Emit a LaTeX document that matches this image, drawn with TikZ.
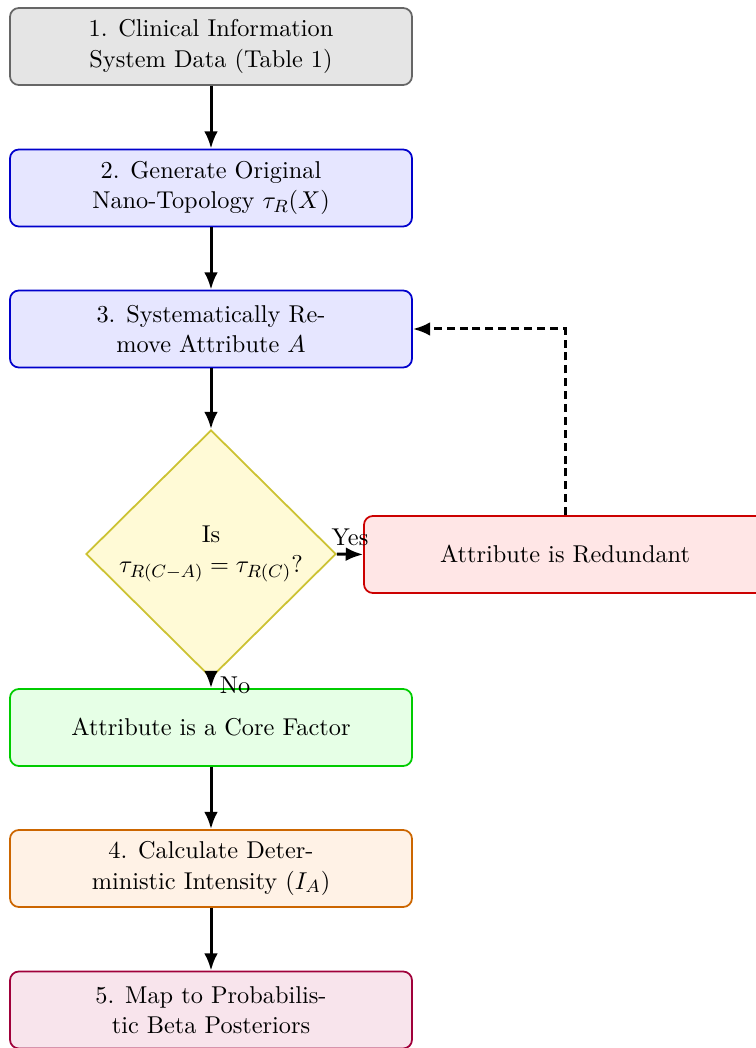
\documentclass[tikz,border=0pt]{standalone}
\usetikzlibrary{shapes.geometric,arrows.meta}
\definecolor{grayfill}{RGB}{229,229,229}
\definecolor{graydraw}{RGB}{102,102,102}
\definecolor{bluefill}{RGB}{230,230,255}
\definecolor{bluedraw}{RGB}{0,0,204}
\definecolor{yelfill}{RGB}{255,250,214}
\definecolor{yeldraw}{RGB}{204,194,51}
\definecolor{redfill}{RGB}{255,230,230}
\definecolor{reddraw}{RGB}{204,0,0}
\definecolor{grnfill}{RGB}{230,255,230}
\definecolor{grndraw}{RGB}{0,204,0}
\definecolor{orgfill}{RGB}{255,242,230}
\definecolor{orgdraw}{RGB}{204,102,0}
\definecolor{purfill}{RGB}{248,228,236}
\definecolor{purdraw}{RGB}{160,0,58}
\tikzset{
  stepbox/.style={rectangle, rounded corners=4pt, draw, line width=0.8pt,
    minimum width=180.9pt, minimum height=34.65pt, align=center,
    font=\fontsize{10.95}{13.6}\selectfont, inner sep=0pt},
  decision/.style={diamond, draw=yeldraw, fill=yelfill, line width=0.8pt,
    minimum width=112.5pt, minimum height=111.6pt, inner sep=0pt, align=center,
    font=\fontsize{10.95}{13.6}\selectfont},
  flow/.style={-{Latex[length=7.8pt,width=6.2pt]}, line width=1.35pt},
  lbl/.style={font=\fontsize{10.95}{13.6}\selectfont}
}
\begin{document}
\begin{tikzpicture}[x=0.45pt,y=-0.45pt]
\useasboundingbox (0,0) rectangle (755,1048);
\node[stepbox, fill=grayfill, draw=graydraw] (s1) at (211,46.5) {1. Clinical Information\\System Data (Table 1)};
\node[stepbox, fill=bluefill, draw=bluedraw] (s2) at (211,188) {2. Generate Original\\Nano-Topology $\tau_R(X)$};
\node[stepbox, fill=bluefill, draw=bluedraw] (s3) at (211,329) {3. Systematically Re-\\move Attribute $A$};
\node[decision] (d) at (211,554) {Is\\$\tau_{R(C-A)}=\tau_{R(C)}$?};
\node[stepbox, fill=redfill, draw=reddraw] (red) at (565,554.5) {Attribute is Redundant};
\node[stepbox, fill=grnfill, draw=grndraw] (core) at (211,727.5) {Attribute is a Core Factor};
\node[stepbox, fill=orgfill, draw=orgdraw] (s4) at (211,868.5) {4. Calculate Deter-\\ministic Intensity ($I_A$)};
\node[stepbox, fill=purfill, draw=purdraw] (s5) at (211,1010) {5. Map to Probabilis-\\tic Beta Posteriors};
\draw[flow] (s1) -- (s2);
\draw[flow] (s2) -- (s3);
\draw[flow] (s3) -- (d);
\draw[flow] (d.east) -- node[lbl, above] {Yes} (red.west);
\draw[flow] (d.south) -- node[lbl, right, pos=0.7] {No} (core.north);
\draw[flow, dash pattern=on 3.6pt off 2.2pt] (red.north) |- (s3.east);
\draw[flow] (core) -- (s4);
\draw[flow] (s4) -- (s5);
\end{tikzpicture}
\end{document}
